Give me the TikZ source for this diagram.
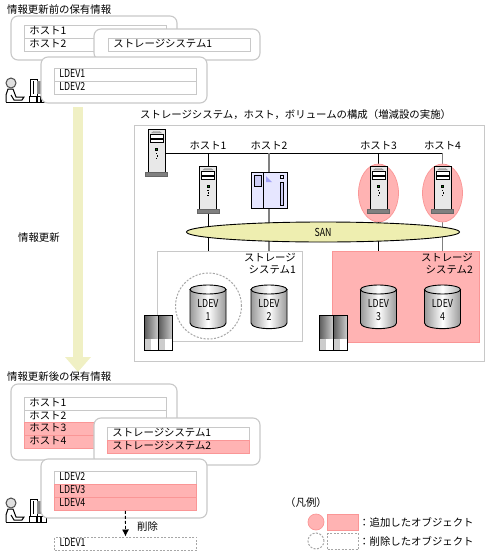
\documentclass[tikz,border=0pt]{standalone}
\usepackage{fontspec}
\setmainfont{Noto Sans CJK JP}
\newfontfamily\narrowfont[FakeStretch=0.8]{Noto Sans CJK JP}
\usetikzlibrary{arrows.meta,shapes.geometric}
\definecolor{added}{RGB}{255,179,179}
\definecolor{addedline}{RGB}{250,150,150}
\definecolor{frame}{RGB}{200,200,200}
\definecolor{sanfill}{RGB}{238,238,176}
\definecolor{updfill}{RGB}{240,240,196}
\definecolor{devfill}{RGB}{230,230,255}
\definecolor{devpart}{RGB}{204,204,245}
\begin{document}
\begin{tikzpicture}[x=1pt,y=-1pt]

		\def\txt{\fontsize{10.4}{12.5}\selectfont}
		\def\ltn{\narrowfont\fontsize{11}{13}\selectfont}

		\tikzset{label/.style={inner sep=0pt,font=\txt}}
		\tikzset{panel/.style={draw=frame,fill=white,line width=1.1pt,rounded corners=7pt}}
		\tikzset{row/.style={draw=frame,fill=white,line width=0.8pt,anchor=north west,inner ysep=0pt,inner xsep=5pt,text width=132pt,align=left,minimum height=13pt,text height=8pt,text depth=2pt,font=\txt}}
		\tikzset{addrow/.style={row,fill=added,draw=addedline}}
		\tikzset{delstyle/.style={draw=black!35,fill=white,line width=1pt,dash pattern=on 2pt off 1.5pt}}
		\tikzset{addstyle/.style={draw=addedline,fill=added,line width=0.7pt}}
		\tikzset{thin/.style={draw,line width=0.8pt}}
		\tikzset{thick/.style={draw=black!50,line width=1.5pt}}
		\tikzset{storage/.style={anchor=north west,inner sep=0pt}}
		\tikzset{vol/.style={draw,line width=0.9pt,left color=black!40,right color=black!40,middle color=white}}

		% Server: id
		\tikzset{pics/server/.style args={#1}{code={%
							\node[inner sep=0pt,minimum width=22pt,minimum height=48pt] (#1) at (0,24) {};
							\draw[fill=black!9,line width=0.9pt] (-8.5,0) rectangle (8.5,43);
							\draw[fill=black!50,draw=black!60] (-11,43) rectangle (11,47.5);
							\draw[fill=black!35,draw=black!40,line width=0.4pt] (-5,4) -- (-3,2.5) -- (3,2.5) -- (5,4) -- cycle;
							\draw[fill=white,line width=0.9pt] (-6.5,5) rectangle (6.5,9);
							\draw[fill=white,line width=0.6pt] (-6.5,10) rectangle (6.5,13);
							\draw[fill=green!60!black,line width=0.5pt] (-1.2,18.8) rectangle (1,21);
							\fill (-0.6,24) rectangle (0.6,25.2);
							\fill (0.2,26.4) rectangle (1.4,27.6);
							\fill (-0.6,28.8) rectangle (0.6,30);
						}}}

		% Controller: id/width of one half
		\tikzset{pics/ctrl/.style args={#1/#2}{code={%
							\node[inner sep=0pt,minimum width=2*#2 pt,minimum height=35pt] (#1) at (#2,17.5) {};
							\fill[left color=black!65,right color=black!20] (0,0) rectangle (#2,24);
							\fill[left color=black!65,right color=black!20] (#2,0) rectangle (2*#2,24);
							\fill[black!20] (0,24) rectangle (0.5*#2,35);
							\fill[white] (0.5*#2,24) rectangle (#2,35);
							\fill[black!20] (#2,24) rectangle (1.5*#2,35);
							\fill[white] (1.5*#2,24) rectangle (2*#2,35);
							\draw[line width=0.9pt] (0,0) rectangle (2*#2,35);
							\draw[line width=0.9pt] (#2,0) -- (#2,35);
						}}}

		% Volume: id/text
		\tikzset{pics/volume/.style args={#1/#2}{code={%
							\path[vol] (-18,4.5) -- (-18,38) .. controls (-18,45.5) and (18,45.5) .. (18,38) -- (18,4.5) -- cycle;
							\draw[line width=0.9pt,left color=black!30,right color=black!30,middle color=white] (0,4.5) ellipse [x radius=18,y radius=4.5];
							\node[inner sep=0pt,align=center,font=\ltn,text depth=0pt] (#1) at (0,25) {LDEV\\#2};
						}}}

		% Operator at the terminal: no id
		\tikzset{pics/operator/.style={code={%
							\draw[fill=white,line width=1pt] (1,24) -- (1,17) -- (3,11) -- (8,11) -- (11,19) -- (19,19) -- (17,22) -- (9,22) -- (6,17);
							\draw[line width=1pt] (1,24) -- (41,24);
							\draw[fill=black!12,line width=1pt,draw=black!70] (6,5) circle (5);
							\draw[fill=white,line width=1pt] (25,1) rectangle (32,18);
							\draw[line width=0.8pt] (28,3) -- (28,16);
							\fill[black!45] (32,3) rectangle (38,16);
							\draw[fill=white,line width=0.9pt] (24,18) rectangle (41,24);
							\fill (31,19) rectangle (33,24);
							\fill (35,19) rectangle (37,24);
						}}}

		\useasboundingbox (0,0) rectangle (488,552);

		% --- before ---
		\node[label,anchor=west] (before) at (7,10) {情報更新前の保有情報};

		\pic at (5,78) {operator};

		\draw[panel] (11,16) rectangle (177,60);
		\node[row] (b-h1) at (24,25) {ホスト1};
		\node[row] (b-h2) at (24,38) {ホスト2};

		\draw[panel] (94,29) rectangle (260,60);
		\node[row] (b-s1) at (108,38) {ストレージシステム1};

		\draw[panel] (41,57) rectangle (207,103);
		\node[row,font=\ltn] (b-l1) at (54,68) {LDEV1};
		\node[row,font=\ltn] (b-l2) at (54,81) {LDEV2};

		% --- update ---
		\coordinate (upd-a) at (78,107);
		\coordinate (upd-b) at (78,372);
		\draw[updfill,line width=10pt,-{Triangle[width=25pt,length=15pt]}] (upd-a) -- (upd-b);
		\node[label,anchor=west] (update) at (18,238) {情報更新};

		% --- configuration ---
		\node[label,anchor=west] (conf) at (140,115) {ストレージシステム，ホスト，ボリュームの構成（増減設の実施）};
		\node[draw=frame,line width=1pt,storage,minimum width=350pt,minimum height=236pt] (area) at (134,125) {};

		\node[storage,draw=frame,line width=1pt,fill=white,minimum width=145pt,minimum height=90pt] (st1) at (157,251) {};
		\node[storage,addstyle,minimum width=147pt,minimum height=91pt] (st2) at (332,251) {};

		\coordinate (bus0) at (166,153);
		\coordinate (bus1) at (208,153);
		\coordinate (bus2) at (269,153);
		\coordinate (bus3) at (378.5,153);
		\coordinate (bus4) at (442.5,153);

		\path[thin] (bus0) -- (bus4);
		\path[thin] (bus1) -- (bus1 |- st1.north);
		\path[thick] (bus2) -- (bus2 |- st1.north);
		\path[thin] (bus3) -- (bus3 |- st2.north);
		\path[thick] (bus4) -- (bus4 |- st2.north);

		\node[label] (l-h1) at (208,146) {ホスト1};
		\node[label] (l-h2) at (269,146) {ホスト2};
		\node[label] (l-h3) at (378.5,146) {ホスト3};
		\node[label] (l-h4) at (442.5,146) {ホスト4};

		\node[ellipse,addstyle,inner sep=0pt,minimum width=40pt,minimum height=58pt] (e3) at (378.5,193) {};
		\node[ellipse,addstyle,inner sep=0pt,minimum width=40pt,minimum height=58pt] (e4) at (442.5,193) {};

		\pic at (156.5,129) {server=srv};
		\pic at (208,166) {server=h1};
		\pic at (378.5,166) {server=h3};
		\pic at (442.5,166) {server=h4};

		\node[storage,draw,line width=0.9pt,fill=devfill,minimum width=36pt,minimum height=36pt] (h2) at (251,172) {};
		\draw[line width=0.9pt] (263,172) -- (263,208);
		\draw[fill=devpart,line width=0.7pt] (254,175) rectangle (261,186);
		\fill[devpart!80!blue] (266,176) -- (266,182) -- (272,182) -- cycle;
		\draw[fill=devfill,line width=0.7pt] (280,175) rectangle (283.5,178.5);
		\draw[fill=devpart,line width=0.7pt] (280,182) rectangle (283.5,205);

		\node[ellipse,draw,line width=0.9pt,fill=sanfill,inner sep=0pt,minimum width=273pt,minimum height=20pt,font=\ltn] (san) at (323,232) {SAN};

		\node[label,align=right,anchor=north east,text depth=0pt] (t-st1) at (296,253) {ストレージ\\システム1};
		\node[label,align=right,anchor=north east,text depth=0pt] (t-st2) at (473,253) {ストレージ\\システム2};

		\node[circle,delstyle,fill=none,inner sep=0pt,minimum size=66pt] (gone) at (208.5,306) {};

		\pic at (208,285) {volume=v1/1};
		\pic at (269,285) {volume=v2/2};
		\pic at (378.5,285) {volume=v3/3};
		\pic at (442.5,285) {volume=v4/4};

		\pic at (144,315) {ctrl=c1/14.3};
		\pic at (319,315) {ctrl=c2/14};

		% --- after ---
		\node[label,anchor=west] (after) at (7,377) {情報更新後の保有情報};

		\pic at (5,498) {operator};

		\draw[panel] (11,384) rectangle (177,460);
		\node[row] (a-h1) at (24,397) {ホスト1};
		\node[row] (a-h2) at (24,409.5) {ホスト2};
		\node[addrow] (a-h3) at (24,422) {ホスト3};
		\node[addrow] (a-h4) at (24,435) {ホスト4};

		\draw[panel] (94,418) rectangle (260,465);
		\node[row] (a-s1) at (107,427) {ストレージシステム1};
		\node[addrow] (a-s2) at (107,440) {ストレージシステム2};

		\draw[panel] (41,459) rectangle (207,518);
		\node[row,font=\ltn] (a-l2) at (54,471) {LDEV2};
		\node[addrow,font=\ltn] (a-l3) at (54,483.5) {LDEV3};
		\node[addrow,font=\ltn] (a-l4) at (54,497) {LDEV4};

		\node[row,delstyle,font=\ltn] (a-l1) at (54,536.5) {LDEV1};
		\draw[line width=0.9pt,dash pattern=on 3pt off 2pt,-{Latex[length=7pt,width=7pt]}] (a-l4.south) -- (a-l1.north);
		\node[label,anchor=west] (drop) at (137,527) {削除};

		% --- legend ---
		\node[label,anchor=west] (legend) at (285,503) {（凡例）};
		\node[circle,addstyle,inner sep=0pt,minimum size=16pt] (k-c1) at (316,522) {};
		\node[storage,addstyle,minimum width=31pt,minimum height=16pt] (k-r1) at (327,514) {};
		\node[circle,delstyle,inner sep=0pt,minimum size=16pt] (k-c2) at (316,541) {};
		\node[storage,delstyle,minimum width=31pt,minimum height=16pt] (k-r2) at (327,533) {};
		\node[label,anchor=west] (k-t1) at (359,522) {：追加したオブジェクト};
		\node[label,anchor=west] (k-t2) at (359,541) {：削除したオブジェクト};

	\end{tikzpicture}
\end{document}
